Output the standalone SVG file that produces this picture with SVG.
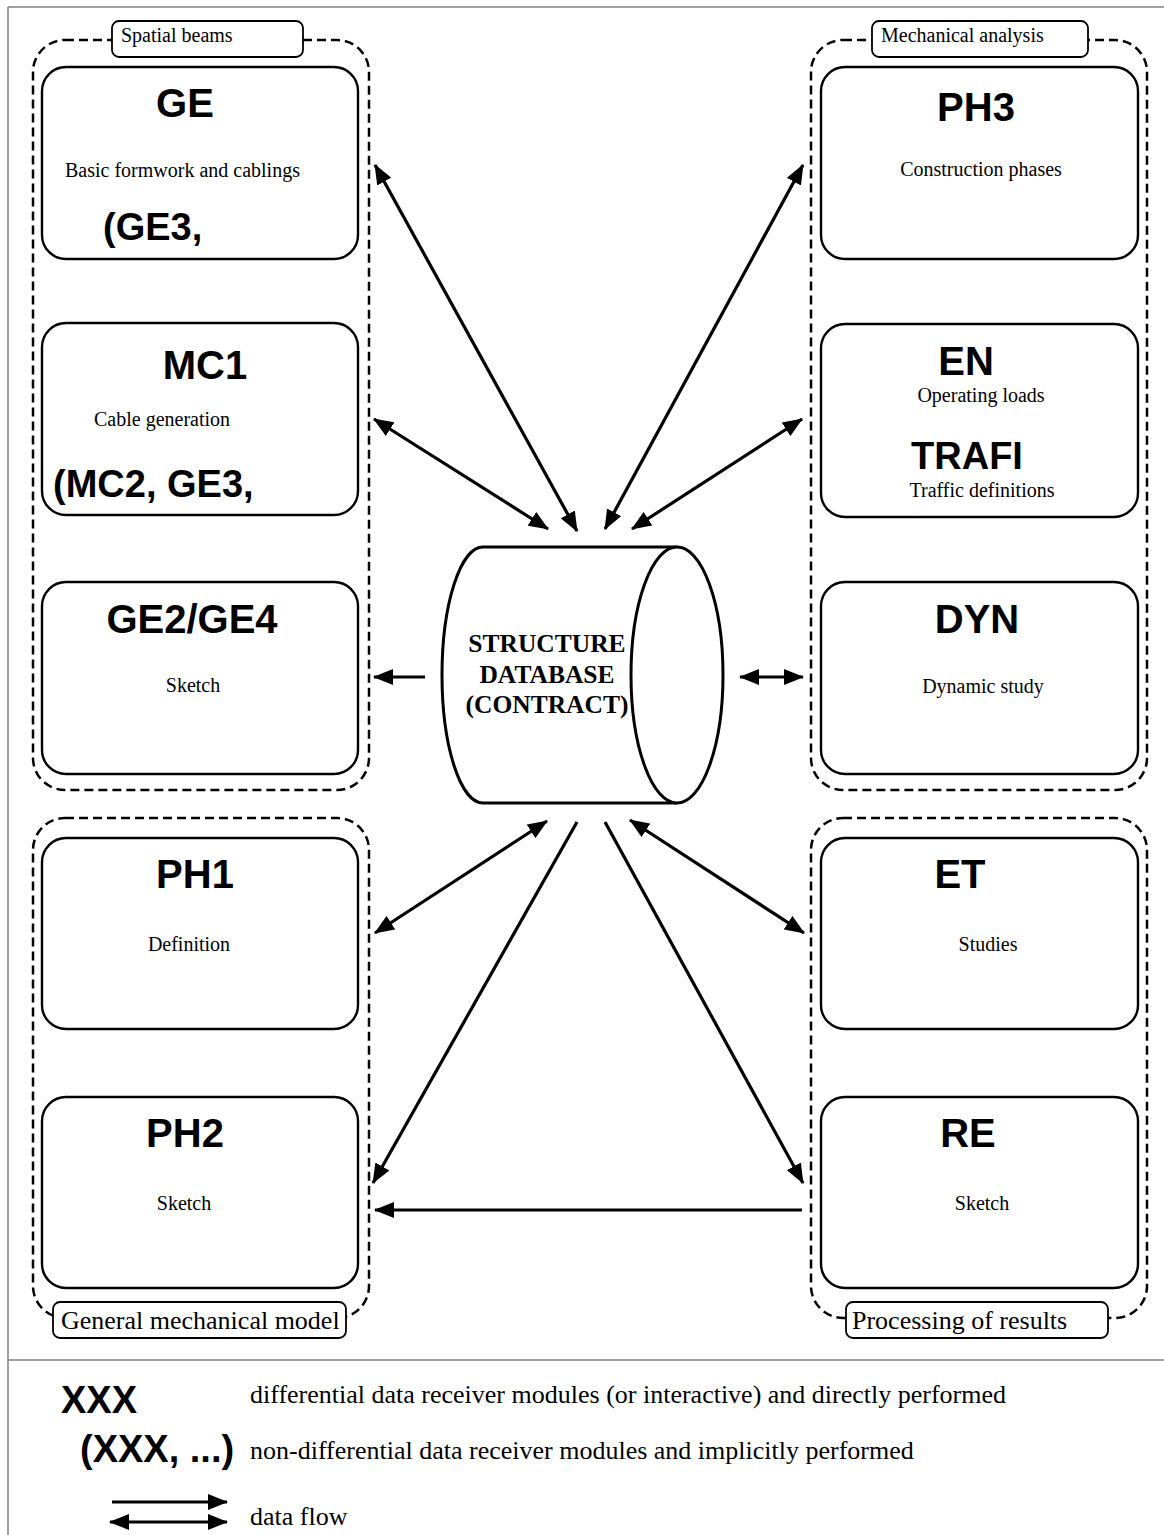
<svg xmlns="http://www.w3.org/2000/svg" width="1164" height="1535" viewBox="0 0 1164 1535">
<style>
.frame{stroke:#808080;stroke-width:1.5;fill:none}
.grp{fill:none;stroke:#000;stroke-width:2.5;stroke-dasharray:9 5}
.lbl{fill:#fff;stroke:#000;stroke-width:1.8}
.box{fill:#fff;stroke:#000;stroke-width:2.4}
.t{font-family:"Liberation Sans",Arial,sans-serif;font-weight:bold;font-size:40px;fill:#000}
.b{font-family:"Liberation Sans",Arial,sans-serif;font-weight:bold;font-size:38px;fill:#000}
.s{font-family:"Liberation Serif","Times New Roman",serif;font-size:20px;fill:#000}
.g{font-family:"Liberation Serif","Times New Roman",serif;font-size:26px;fill:#000}
.db{font-family:"Liberation Serif","Times New Roman",serif;font-weight:bold;font-size:25.5px;fill:#000}
.c{text-anchor:middle}
.ar{stroke:#000;stroke-width:3.2;fill:none}
</style>
<defs>
<marker id="ah" markerUnits="userSpaceOnUse" markerWidth="20" markerHeight="16" refX="19" refY="8" orient="auto-start-reverse" viewBox="0 0 20 16">
<path d="M0,0 L20,8 L0,16 z" fill="#000"/>
</marker>
</defs>
<rect width="1164" height="1535" fill="#fff"/>
<g id="frame">
<line class="frame" x1="8" y1="7" x2="1164" y2="7"/>
<line class="frame" x1="8" y1="7" x2="8" y2="1535"/>
<line class="frame" x1="8" y1="1360" x2="1164" y2="1360"/>
</g>
<g id="group-spatial-beams">
<rect class="grp" x="33" y="40" width="336" height="750" rx="32"/>
<rect class="lbl" x="112" y="21" width="191" height="36" rx="7"/>
<text class="s" x="121" y="42">Spatial beams</text>
</g>
<g id="group-general-mechanical-model">
<rect class="grp" x="33" y="818" width="336" height="500" rx="32"/>
<rect class="lbl" x="53" y="1302" width="293" height="36" rx="7"/>
<text class="g" x="61" y="1329">General mechanical model</text>
</g>
<g id="group-mechanical-analysis">
<rect class="grp" x="811" y="40" width="336" height="750" rx="32"/>
<rect class="lbl" x="872" y="21" width="216" height="36" rx="7"/>
<text class="s" x="881" y="42">Mechanical analysis</text>
</g>
<g id="group-processing-of-results">
<rect class="grp" x="811" y="818" width="336" height="500" rx="32"/>
<rect class="lbl" x="846" y="1302" width="262" height="36" rx="7"/>
<text class="g" x="852" y="1329">Processing of results</text>
</g>
<g id="node-GE">
<rect class="box" x="42" y="67" width="316" height="192" rx="24"/>
<text class="t c" x="185" y="117">GE</text>
<text class="s" x="65" y="177">Basic formwork and cablings</text>
<text class="b" x="103" y="240">(GE3,</text>
</g>
<g id="node-MC1">
<rect class="box" x="42" y="323" width="316" height="192" rx="24"/>
<text class="t c" x="205" y="379">MC1</text>
<text class="s" x="94" y="426">Cable generation</text>
<text class="b" x="53" y="497">(MC2, GE3,</text>
</g>
<g id="node-GE2-GE4">
<rect class="box" x="42" y="582" width="316" height="192" rx="24"/>
<text class="t c" x="192" y="633">GE2/GE4</text>
<text class="s c" x="193" y="692">Sketch</text>
</g>
<g id="node-PH1">
<rect class="box" x="42" y="838" width="316" height="191" rx="24"/>
<text class="t c" x="195" y="888">PH1</text>
<text class="s c" x="189" y="951">Definition</text>
</g>
<g id="node-PH2">
<rect class="box" x="42" y="1097" width="316" height="191" rx="24"/>
<text class="t c" x="185" y="1147">PH2</text>
<text class="s c" x="184" y="1210">Sketch</text>
</g>
<g id="node-PH3">
<rect class="box" x="821" y="67" width="317" height="192" rx="24"/>
<text class="t c" x="976" y="121">PH3</text>
<text class="s c" x="981" y="176">Construction phases</text>
</g>
<g id="node-EN">
<rect class="box" x="821" y="324" width="317" height="193" rx="24"/>
<text class="t c" x="966" y="375">EN</text>
<text class="s c" x="981" y="402">Operating loads</text>
<text class="b c" x="967" y="469">TRAFI</text>
<text class="s c" x="982" y="497">Traffic definitions</text>
</g>
<g id="node-DYN">
<rect class="box" x="821" y="582" width="317" height="192" rx="24"/>
<text class="t c" x="977" y="633">DYN</text>
<text class="s c" x="983" y="693">Dynamic study</text>
</g>
<g id="node-ET">
<rect class="box" x="821" y="838" width="317" height="191" rx="24"/>
<text class="t c" x="960" y="888">ET</text>
<text class="s c" x="988" y="951">Studies</text>
</g>
<g id="node-RE">
<rect class="box" x="821" y="1097" width="317" height="191" rx="24"/>
<text class="t c" x="968" y="1147">RE</text>
<text class="s c" x="982" y="1210">Sketch</text>
</g>
<g id="node-database">
<path d="M677,547 L483,547 A41,128 0 0 0 483,803 L677,803" fill="#fff" stroke="#000" stroke-width="3"/>
<ellipse cx="677" cy="675" rx="46" ry="128" fill="#fff" stroke="#000" stroke-width="3"/>
<text class="db c" x="547" y="652">STRUCTURE</text>
<text class="db c" x="547" y="683">DATABASE</text>
<text class="db c" x="547" y="713">(CONTRACT)</text>
</g>
<g id="connectors">
<line class="ar" x1="375" y1="165" x2="577" y2="531" marker-start="url(#ah)" marker-end="url(#ah)"/>
<line class="ar" x1="374" y1="419" x2="548" y2="529" marker-start="url(#ah)" marker-end="url(#ah)"/>
<line class="ar" x1="803" y1="165" x2="605" y2="529" marker-start="url(#ah)" marker-end="url(#ah)"/>
<line class="ar" x1="802" y1="419" x2="632" y2="529" marker-start="url(#ah)" marker-end="url(#ah)"/>
<line class="ar" x1="425" y1="677" x2="374" y2="677" marker-end="url(#ah)"/>
<line class="ar" x1="740" y1="677" x2="803" y2="677" marker-start="url(#ah)" marker-end="url(#ah)"/>
<line class="ar" x1="547" y1="821" x2="375" y2="933" marker-start="url(#ah)" marker-end="url(#ah)"/>
<line class="ar" x1="577" y1="822" x2="373" y2="1183" marker-end="url(#ah)"/>
<line class="ar" x1="605" y1="822" x2="803" y2="1183" marker-end="url(#ah)"/>
<line class="ar" x1="630" y1="820" x2="804" y2="933" marker-start="url(#ah)" marker-end="url(#ah)"/>
<line class="ar" x1="802" y1="1210" x2="375" y2="1210" marker-end="url(#ah)"/>
</g>
<g id="legend">
<text class="b" x="61" y="1413">XXX</text>
<text class="g" x="250" y="1403">differential data receiver modules (or interactive) and directly performed</text>
<text class="b" x="80" y="1462">(XXX, ...)</text>
<text class="g" x="250" y="1459">non-differential data receiver modules and implicitly performed</text>
<line class="ar" x1="112" y1="1502" x2="227" y2="1502" marker-end="url(#ah)"/>
<line class="ar" x1="110" y1="1522" x2="227" y2="1522" marker-start="url(#ah)" marker-end="url(#ah)"/>
<text class="g" x="250" y="1525">data flow</text>
</g>
</svg>
